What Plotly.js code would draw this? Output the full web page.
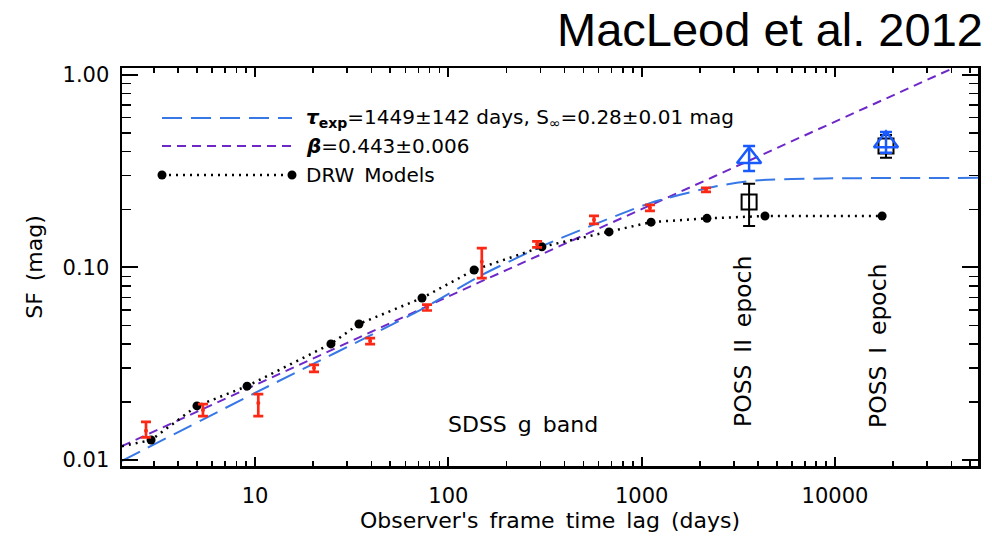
<!DOCTYPE html>
<html>
<head>
<meta charset="utf-8">
<script src="https://cdn.plot.ly/plotly-3.0.1.min.js"></script>
<style>html,body{margin:0;padding:0;background:#fff;}#chart{width:992px;height:542px;}</style>
</head>
<body>
<div id="chart"></div>
<script>
// SDSS g-band structure function measurements (red error bars)
const sdssLag = [2.73, 5.38, 10.4, 20.2, 39.4, 77.6, 149, 288, 567, 1104, 2153];
const sdssSF = [0.0142, 0.0182, 0.0198, 0.0301, 0.0415, 0.0620, 0.107, 0.132, 0.177, 0.204, 0.253];
const sdssErrPlus = [0.0016, 0.0013, 0.0022, 0.0011, 0.0015, 0.0022, 0.019, 0.0048, 0.0085, 0.0074, 0.006];
const sdssErrMinus = [0.0011, 0.0013, 0.0029, 0.0014, 0.0015, 0.0022, 0.019, 0.0048, 0.0085, 0.0074, 0.006];

// DRW model points (black dots, dotted line)
const drwLag = [2.90, 5.01, 9.10, 24.7, 34.5, 73.1, 136, 305, 678, 1119, 2178, 4346, 17540];
const drwSF = [0.0127, 0.0191, 0.0242, 0.0401, 0.0509, 0.0694, 0.0970, 0.128, 0.153, 0.172, 0.180, 0.185, 0.185];
const drwLineStartLag = 2.05;
const drwLineStartSF = 0.0118;

// Exponential (DRW) fit curve, tau=1449 d, SF_inf=0.28 (blue long dashes)
const expLag = [2.05, 10, 71.5, 149, 316, 1104, 2339, 3900, 8850, 56000];
const expSF = [0.0099, 0.0223, 0.0601, 0.0914, 0.131, 0.216, 0.262, 0.283, 0.290, 0.292];

// Power law beta=0.443 (purple short dashes)
const powLag = [2.05, 146, 2339, 41000];
const powSF = [0.0118, 0.0841, 0.295, 1.087];

// POSS epochs
const possLag = [3597, 18370];
const possTriSF = [0.371, 0.449];
const possTriErrPlus = [0.057, 0.057];
const possTriErrMinus = [0.054, 0.055];
const possSqSF = [0.219, 0.428];
const possSqErrPlus = [0.053, 0.060];
const possSqErrMinus = [0.055, 0.057];

// Texts
const SP = '\u2002';
const xTitle = ["Observer's", 'frame', 'time', 'lag', '(days)'].join(SP);
const yTitle = ['SF', '(mag)'].join(SP);
const legendTexts = [
  "<b><i>τ</i></b><sub><b>exp</b></sub>=1449±142 days, S<sub>∞</sub>=0.28±0.01 mag",
  "<b><i>β</i></b>=0.443±0.006",
  "DRW" + SP + "Models"
];
const bandText = ['SDSS', 'g', 'band'].join(SP);
const poss2Text = ['POSS', 'II', 'epoch'].join(SP);
const poss1Text = ['POSS', 'I', 'epoch'].join(SP);

const FONT = 'DejaVu Sans';
const blueLine = 'rgb(55,120,230)';
const purple = 'rgb(110,40,200)';
const red = 'rgb(250,40,20)';
const blueTri = 'rgb(25,90,255)';

const traces = [
  {x: powLag, y: powSF, mode: 'lines', line: {color: purple, width: 2, dash: '9px,6px'}, hoverinfo: 'skip'},
  {x: expLag, y: expSF, mode: 'lines', line: {color: blueLine, width: 2, dash: '20px,9px', shape: 'spline', smoothing: 0.6}, hoverinfo: 'skip'},
  {x: [drwLineStartLag].concat(drwLag), y: [drwLineStartSF].concat(drwSF), mode: 'lines',
   line: {color: 'black', width: 2.5, dash: '2px,5px'}, hoverinfo: 'skip'},
  {x: drwLag, y: drwSF, mode: 'markers', marker: {color: 'black', size: 9}},
  {x: sdssLag, y: sdssSF, mode: 'markers', marker: {color: red, size: 4},
   error_y: {type: 'data', symmetric: false, array: sdssErrPlus, arrayminus: sdssErrMinus, color: red, thickness: 2.7, width: 5}},
  {x: possLag, y: possSqSF, mode: 'markers', marker: {symbol: 'square-open', color: 'black', size: 15, line: {width: 2}},
   error_y: {type: 'data', symmetric: false, array: possSqErrPlus, arrayminus: possSqErrMinus, color: 'black', thickness: 2, width: 6}},
  {x: possLag, y: possTriSF, mode: 'markers', marker: {symbol: 'triangle-up-open', color: blueTri, size: 21, line: {width: 2.5}},
   error_y: {type: 'data', symmetric: false, array: possTriErrPlus, arrayminus: possTriErrMinus, color: blueTri, thickness: 2.5, width: 6}}
];

// plot area pixel geometry helpers for legend placement
const L = 122, R = 978, T = 68, B = 466;
const px = v => (v - L) / (R - L);
const py = v => (B - v) / (B - T);

const legY = [118, 146, 175];
const shapes = [
  {type: 'line', xref: 'paper', yref: 'paper', x0: px(162), x1: px(292), y0: py(legY[0]), y1: py(legY[0]), line: {color: blueLine, width: 2, dash: '20px,9px'}},
  {type: 'line', xref: 'paper', yref: 'paper', x0: px(162), x1: px(292), y0: py(legY[1]), y1: py(legY[1]), line: {color: purple, width: 2, dash: '9px,6px'}},
  {type: 'line', xref: 'paper', yref: 'paper', x0: px(162), x1: px(292), y0: py(legY[2]), y1: py(legY[2]), line: {color: 'black', width: 2.5, dash: '2px,5px'}},
  {type: 'circle', xref: 'paper', yref: 'paper', xsizemode: 'pixel', ysizemode: 'pixel', xanchor: px(162), yanchor: py(legY[2]), x0: -4.5, x1: 4.5, y0: -4.5, y1: 4.5, fillcolor: 'black', line: {width: 0}},
  {type: 'circle', xref: 'paper', yref: 'paper', xsizemode: 'pixel', ysizemode: 'pixel', xanchor: px(292), yanchor: py(legY[2]), x0: -4.5, x1: 4.5, y0: -4.5, y1: 4.5, fillcolor: 'black', line: {width: 0}}
];

const annotations = legendTexts.map((t, i) => ({
  text: t, xref: 'paper', yref: 'paper', x: px(304), y: py(legY[i]), xanchor: 'left', yanchor: 'middle',
  showarrow: false, font: {family: FONT, size: 20, color: 'black'}
})).concat([
  {text: 'MacLeod et al. 2012', xref: 'paper', yref: 'paper', x: px(985), y: py(30), xanchor: 'right', yanchor: 'middle',
   showarrow: false, font: {family: 'Liberation Sans', size: 47, color: 'black'}},
  {text: bandText, xref: 'paper', yref: 'paper', x: px(523), y: py(424), xanchor: 'center', yanchor: 'middle',
   showarrow: false, font: {family: FONT, size: 22, color: 'black'}},
  {text: poss2Text, xref: 'paper', yref: 'paper', x: px(743), y: py(342), xanchor: 'center', yanchor: 'middle', textangle: -90,
   showarrow: false, font: {family: FONT, size: 23.5, color: 'black'}},
  {text: poss1Text, xref: 'paper', yref: 'paper', x: px(878), y: py(346), xanchor: 'center', yanchor: 'middle', textangle: -90,
   showarrow: false, font: {family: FONT, size: 23.5, color: 'black'}}
]);

const layout = {
  width: 992, height: 542,
  margin: {l: L, r: 992 - R, t: T, b: 542 - B, pad: 0},
  paper_bgcolor: 'white', plot_bgcolor: 'white',
  showlegend: false,
  font: {family: FONT, color: 'black'},
  xaxis: {
    type: 'log', range: [0.312, 4.740], autorange: false,
    showline: true, linecolor: 'black', linewidth: 2.5, mirror: 'allticks',
    ticks: 'inside', ticklen: 9, tickwidth: 2, tickcolor: 'black',
    dtick: 1, tickformat: 'd', showgrid: false, zeroline: false,
    minor: {ticks: 'inside', ticklen: 5, tickwidth: 1.5, tickcolor: 'black', dtick: 'D1', showgrid: false},
    tickfont: {family: FONT, size: 21, color: 'black'}, ticklabelstandoff: 9,
    title: {text: xTitle, font: {family: FONT, size: 22, color: 'black'}, standoff: 6}
  },
  yaxis: {
    type: 'log', range: [-2.031, 0.036], autorange: false,
    showline: true, linecolor: 'black', linewidth: 2.5, mirror: 'allticks',
    ticks: 'inside', ticklen: 16, tickwidth: 2, tickcolor: 'black',
    dtick: 1, tickformat: '.2f', showgrid: false, zeroline: false,
    minor: {ticks: 'inside', ticklen: 9, tickwidth: 1.5, tickcolor: 'black', dtick: 'D1', showgrid: false},
    tickfont: {family: FONT, size: 21, color: 'black'}, ticklabelstandoff: 6,
    title: {text: yTitle, font: {family: FONT, size: 22, color: 'black'}, standoff: 14}
  },
  shapes: shapes,
  annotations: annotations
};

Plotly.newPlot('chart', traces, layout, {displayModeBar: false, staticPlot: true});
</script>
</body>
</html>
